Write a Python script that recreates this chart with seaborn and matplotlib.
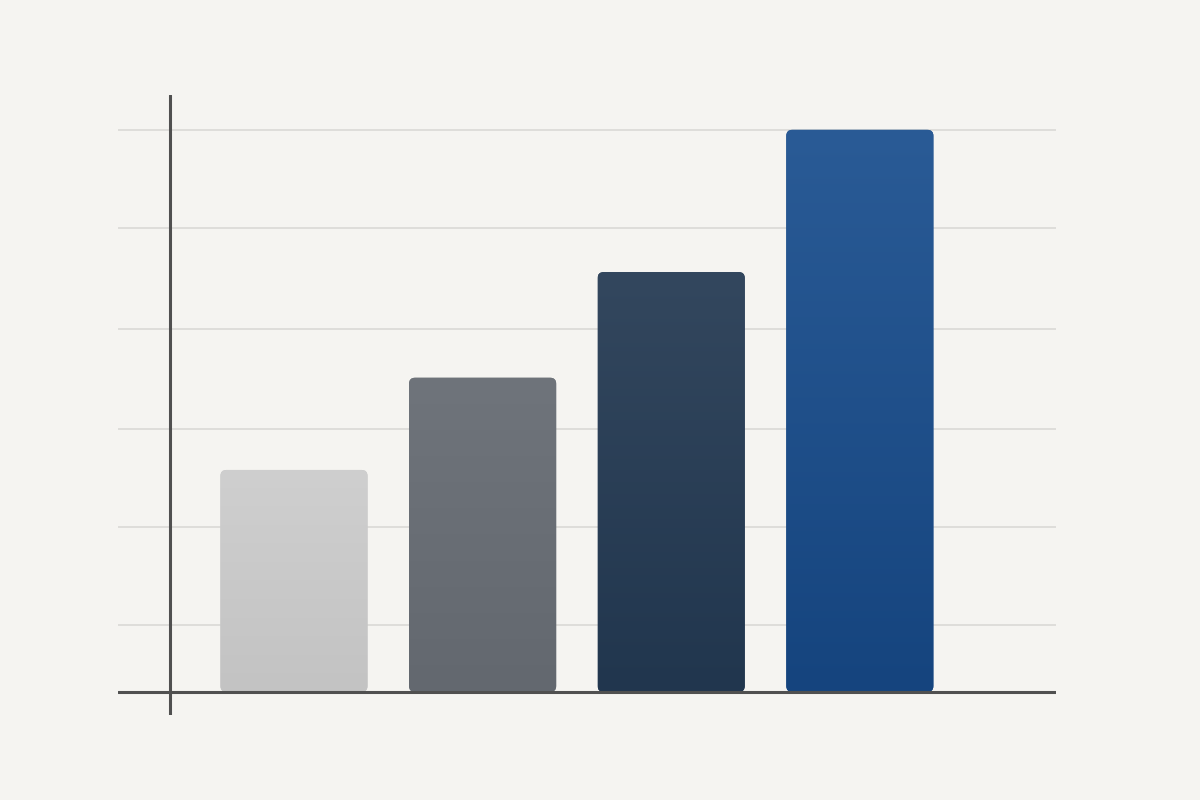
import numpy as np
import pandas as pd
import matplotlib
matplotlib.use("Agg")
import matplotlib.pyplot as plt
import seaborn as sns
from matplotlib.patches import FancyBboxPatch
from matplotlib.colors import LinearSegmentedColormap

# chart values (no labels in the original, just relative heights)
categories = ["A", "B", "C", "D"]
values = [39.5, 55.9, 74.7, 100.0]
bar_colors = ["#c9c9c9", "#6a6f76", "#293d55", "#1f4e89"]
# top / bottom shades for the soft vertical gradient
top_colors = ["#cfcfcf", "#6f747b", "#33475e", "#2a5b96"]
bottom_colors = ["#c3c3c3", "#63686f", "#21364e", "#15447e"]
grid_levels = [11.9, 29.4, 46.8, 64.6, 82.6, 100.0]

bg = "#f5f4f1"

sns.set_theme(style="white")
fig = plt.figure(figsize=(12, 8), dpi=100, facecolor=bg)
# axes spans x 118..1056 px, y 95..715 px
ax = fig.add_axes([118 / 1200, 85 / 800, 938 / 1200, 620 / 800])
ax.set_facecolor(bg)

df = pd.DataFrame({"cat": categories, "val": values})
sns.barplot(data=df, x="cat", y="val", hue="cat", palette=bar_colors,
            width=0.78, legend=False, ax=ax, saturation=1)

ax.set_xlim(-0.933, 4.04)
ax.set_ylim(-4.09, 106.2)

# swap rectangles for slightly rounded ones with a gradient fill
px_x = 938 / (4.04 + 0.933)
px_y = 620 / (106.2 + 4.09)
grad = np.linspace(1, 0, 256).reshape(-1, 1)
for i, p in enumerate(list(ax.patches)):
    x0, y0 = p.get_x(), p.get_y()
    w, h = p.get_width(), p.get_height()
    fc = p.get_facecolor()
    p.remove()
    r = 6 / px_x
    box = FancyBboxPatch((x0, y0), w, h,
                         boxstyle=f"round,pad=0,rounding_size={r}",
                         mutation_aspect=px_x / px_y,
                         facecolor=fc, edgecolor="none", zorder=3)
    ax.add_patch(box)
    cmap = LinearSegmentedColormap.from_list(
        f"g{i}", [bottom_colors[i], top_colors[i]])
    im = ax.imshow(grad, cmap=cmap, aspect="auto", origin="upper",
                   extent=[x0, x0 + w, y0, y0 + h], zorder=3.1)
    im.set_clip_path(box)

ax.set_xlim(-0.933, 4.04)
ax.set_ylim(-4.09, 106.2)

for g in grid_levels:
    ax.axhline(g, color="#dcdbd8", lw=1.3, zorder=1)

sns.despine(ax=ax, left=True, bottom=True, top=True, right=True)
ax.axhline(0, color="#505050", lw=2.2, zorder=4)
ax.axvline(-0.657, color="#505050", lw=2.2, zorder=4)

ax.set_xticks([])
ax.set_yticks([])
ax.set_xlabel("")
ax.set_ylabel("")

fig.savefig("out.png", dpi=100, facecolor=bg)
